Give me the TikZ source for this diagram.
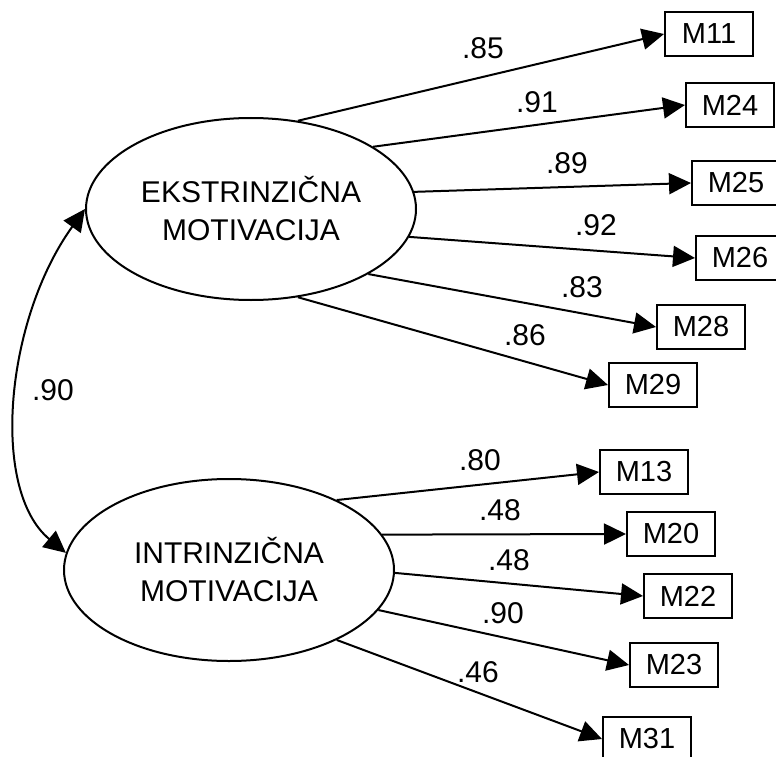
\documentclass[tikz,border=0pt]{standalone}
\usepackage{fontspec}
\setmainfont{Liberation Sans}
\usetikzlibrary{arrows.meta,shapes.geometric}
\begin{document}
\begin{tikzpicture}[x=1pt,y=-1pt,
  lat/.style={draw, ellipse, line width=2pt, minimum width=330pt, minimum height=182pt, inner sep=0pt, align=center, font=\fontsize{30}{38}\selectfont},
  obs/.style={draw, rectangle, line width=2pt, minimum width=88pt, minimum height=44pt, inner sep=0pt, font=\fontsize{29}{34}\selectfont},
  lnk/.style={line width=2pt, -{Triangle[length=22pt,width=21pt]}},
  cov/.style={line width=2pt, {Triangle[length=22pt,width=21pt]}-{Triangle[length=22pt,width=21pt]}},
  lbl/.style={font=\fontsize{30}{34}\selectfont, inner sep=0pt}
]
\useasboundingbox (0,0) rectangle (776,757);
\fill[white] (0,0) rectangle (776,757);

\node[lat] (e1) at (251,209) {EKSTRINZIČNA\\MOTIVACIJA};
\node[lat] (e2) at (229,570) {INTRINZIČNA\\MOTIVACIJA};

\node[obs] (m11) at (709,34) {M11};
\node[obs] (m24) at (730,105) {M24};
\node[obs] (m25) at (736,183) {M25};
\node[obs] (m26) at (740,258) {M26};
\node[obs] (m28) at (701,327) {M28};
\node[obs] (m29) at (653,385) {M29};
\node[obs] (m13) at (644,472) {M13};
\node[obs] (m20) at (671,534) {M20};
\node[obs] (m22) at (688,596) {M22};
\node[obs] (m23) at (674,665) {M23};
\node[obs] (m31) at (647,739) {M31};

\draw[lnk] (e1.62) -- (m11.west);
\draw[lnk] (e1.27) -- (m24.west);
\draw[lnk] (e1.6) -- (m25.west);
\draw[lnk] (e1.-10) -- (m26.west);
\draw[lnk] (e1.-29) -- (m28.west);
\draw[lnk] (e1.-62) -- (m29.west);

\draw[lnk] (e2.33) -- (m13.west);
\draw[lnk] (e2.13) -- (m20.west);
\draw[lnk] (e2.-1) -- (m22.west);
\draw[lnk] (e2.-15) -- (m23.west);
\draw[lnk] (e2.-33) -- (m31.west);

\draw[cov] (e1.west) .. controls (5,320) and (-10,490) .. (e2.174);

\node[lbl] (l85) at (483,48) {.85};
\node[lbl] (l91) at (537,102) {.91};
\node[lbl] (l89) at (567,163) {.89};
\node[lbl] (l92) at (596,225) {.92};
\node[lbl] (l83) at (582,287) {.83};
\node[lbl] (l86) at (525,335) {.86};
\node[lbl] (l80) at (480,460) {.80};
\node[lbl] (l48a) at (500,510) {.48};
\node[lbl] (l48b) at (509,560) {.48};
\node[lbl] (l90b) at (503,613) {.90};
\node[lbl] (l46) at (478,672) {.46};
\node[lbl] (l90) at (53,390) {.90};
\end{tikzpicture}
\end{document}
